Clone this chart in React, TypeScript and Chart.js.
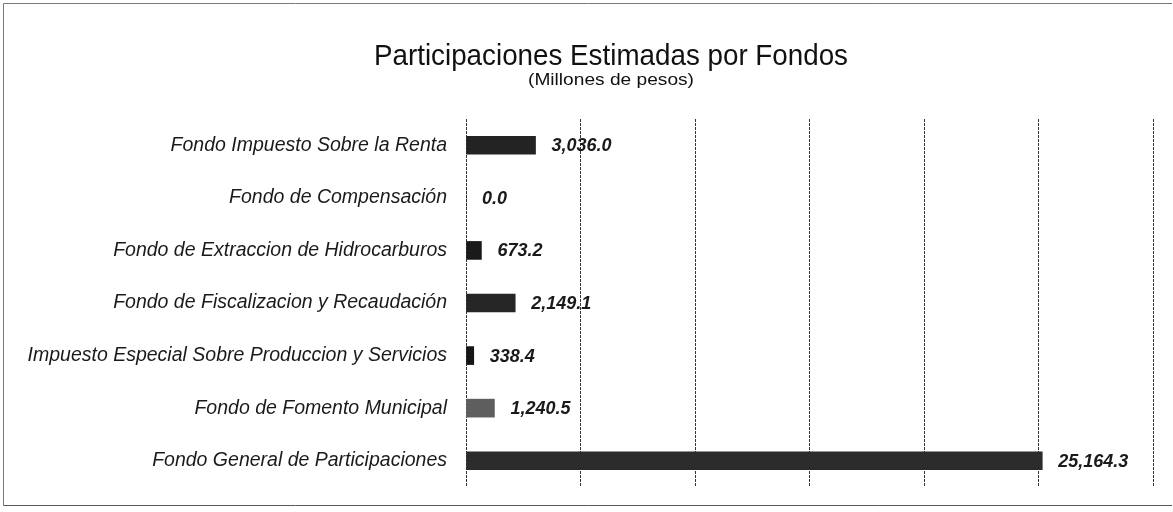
import React, { useEffect, useRef } from "react";
import { Chart, registerables } from "chart.js";

Chart.register(...registerables);

const TITLE = "Participaciones Estimadas por Fondos";
const SUBTITLE = "(Millones de pesos)";

const categories = [
  "Fondo Impuesto Sobre la Renta",
  "Fondo de Compensación",
  "Fondo de Extraccion de Hidrocarburos",
  "Fondo de Fiscalizacion y Recaudación",
  "Impuesto Especial Sobre Produccion y Servicios",
  "Fondo de Fomento Municipal",
  "Fondo General de Participaciones",
];

const values = [3036.0, 0.0, 673.2, 2149.1, 338.4, 1240.5, 25164.3];

const barColors = ["#232323", "#232323", "#1a1a1a", "#262626", "#161616", "#5e5e5e", "#2c2c2c"];

const xMax = 30000;
const xStep = 5000;

const fmt = (v: number) =>
  v.toLocaleString("en-US", { minimumFractionDigits: 1, maximumFractionDigits: 1 });

const decorPlugin = {
  id: "decor",
  beforeDraw(chart: any) {
    const { ctx, width, height } = chart;
    ctx.save();
    ctx.fillStyle = "#ffffff";
    ctx.fillRect(0, 0, width, height);
    ctx.strokeStyle = "#7a7a7a";
    ctx.lineWidth = 1;
    ctx.beginPath();
    ctx.moveTo(3.5, height - 6.5);
    ctx.lineTo(3.5, 3.5);
    ctx.lineTo(width - 1, 3.5);
    ctx.stroke();
    ctx.strokeStyle = "#5a5a5a";
    ctx.beginPath();
    ctx.moveTo(3.5, height - 6.5);
    ctx.lineTo(width - 1, height - 6.5);
    ctx.stroke();
    ctx.restore();
  },
  afterDraw(chart: any) {
    const { ctx } = chart;
    ctx.save();
    ctx.fillStyle = "#111111";
    ctx.textAlign = "center";
    ctx.textBaseline = "alphabetic";
    // title
    ctx.font = '30px "Liberation Sans", Arial, sans-serif';
    let w = ctx.measureText(TITLE).width;
    ctx.save();
    ctx.translate(611, 65);
    ctx.scale(474 / w, 1);
    ctx.fillText(TITLE, 0, 0);
    ctx.restore();
    // subtitle
    ctx.font = '17px "Liberation Sans", Arial, sans-serif';
    w = ctx.measureText(SUBTITLE).width;
    ctx.save();
    ctx.translate(611, 85);
    ctx.scale(166 / w, 1);
    ctx.fillText(SUBTITLE, 0, 0);
    ctx.restore();
    // value labels
    const meta = chart.getDatasetMeta(0);
    ctx.font = 'italic bold 18px "Liberation Sans", Arial, sans-serif';
    ctx.textAlign = "left";
    ctx.textBaseline = "middle";
    ctx.fillStyle = "#1a1a1a";
    meta.data.forEach((bar: any, i: number) => {
      ctx.fillText(fmt(values[i]), bar.x + 16, bar.y + 1);
    });
    ctx.restore();
  },
};

export default function App() {
  const ref = useRef<HTMLCanvasElement>(null);
  useEffect(() => {
    if (!ref.current) return;
    const chart = new Chart(ref.current, {
      type: "bar",
      data: {
        labels: categories,
        datasets: [
          {
            data: values,
            backgroundColor: barColors,
            borderWidth: 0,
            barThickness: 18,
          },
        ],
      },
      options: {
        indexAxis: "y",
        responsive: false,
        animation: false,
        devicePixelRatio: 1,
        layout: { padding: { top: 119, bottom: 25, left: 0, right: 20 } },
        plugins: {
          legend: { display: false },
          title: { display: false },
          tooltip: { enabled: false },
        },
        scales: {
          x: {
            min: 0,
            max: xMax,
            ticks: { display: false, stepSize: xStep },
            grid: { color: "#333333", lineWidth: 1, drawTicks: false },
            border: { display: false, dash: [3, 1] },
            afterFit(scale: any) {
              scale.height = 0;
              scale.paddingLeft = 0;
              scale.paddingRight = 0;
            },
          },
          y: {
            grid: { display: false, drawTicks: false },
            border: { display: false },
            ticks: {
              padding: 19,
              color: "#1a1a1a",
              font: { family: '"Liberation Sans", Arial, sans-serif', size: 19.5, style: "italic" },
            },
            afterFit(scale: any) {
              scale.width = 466;
              scale.paddingTop = 0;
              scale.paddingBottom = 0;
            },
          },
        },
      },
      plugins: [decorPlugin],
    });
    return () => chart.destroy();
  }, []);
  return (
    <div style={{ position: "fixed", left: 0, top: 0, width: 1173, height: 512, background: "#fff" }}>
      <canvas ref={ref} width={1173} height={512} style={{ display: "block" }} />
    </div>
  );
}
